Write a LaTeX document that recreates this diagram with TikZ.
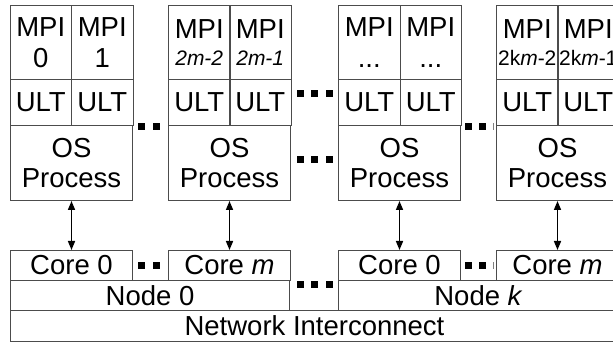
\documentclass[tikz,border=0pt]{standalone}
\usepackage{fontspec}
\setmainfont{Liberation Sans}
\usetikzlibrary{arrows.meta}
\definecolor{edge}{gray}{0.3}
\tikzset{
  box/.style={draw=edge, line width=1pt, inner sep=0pt, anchor=north west, align=center,
    font=\fontsize{27.5}{30.5}\selectfont},
  mpibox/.style={box, minimum width=61.5pt, minimum height=74pt},
  ultbox/.style={box, minimum width=61.5pt, minimum height=46pt},
  osbox/.style={box, minimum width=122pt, minimum height=75pt},
  corebox/.style={box, minimum width=122pt, minimum height=30pt},
  link/.style={line width=1.6pt, {Triangle[length=9pt,width=7pt]}-{Triangle[length=9pt,width=7pt]}},
  dotsq/.style={fill=black}
}
\newcommand{\smalltxt}{\fontsize{21}{23}\selectfont}
\begin{document}
\begin{tikzpicture}[x=1pt,y=-1pt]
\useasboundingbox (0,0) rectangle (613,344);
\clip (0,0) rectangle (613,344);
% group 1
\node[mpibox] (m1a) at (9.5,5) {MPI\\0};
\node[mpibox] (m1b) at (71,5) {MPI\\1};
\node[ultbox] (u1a) at (9.5,79) {ULT};
\node[ultbox] (u1b) at (71,79) {ULT};
\node[osbox] (os1) at (10,125) {OS\\Process};
% group 2
\node[mpibox] (m2a) at (168,5) {MPI\\[-4pt]{\smalltxt\textit{2m-2}}};
\node[mpibox] (m2b) at (229,5) {MPI\\[-4pt]{\smalltxt\textit{2m-1}}};
\node[ultbox] (u2a) at (168,79) {ULT};
\node[ultbox] (u2b) at (229,79) {ULT};
\node[osbox] (os2) at (168,125) {OS\\Process};
% group 3
\node[mpibox] (m3a) at (338,5) {MPI\\...};
\node[mpibox] (m3b) at (399.5,5) {MPI\\...};
\node[ultbox] (u3a) at (338,79) {ULT};
\node[ultbox] (u3b) at (399.5,79) {ULT};
\node[osbox] (os3) at (338,125) {OS\\Process};
% group 4
\node[mpibox] (m4a) at (496,5) {MPI\\[-4pt]{\smalltxt 2k\textit{m}-2}};
\node[mpibox] (m4b) at (557,5) {MPI\\[-4pt]{\smalltxt 2k\textit{m}-1}};
\node[ultbox] (u4a) at (496,79) {ULT};
\node[ultbox] (u4b) at (557,79) {ULT};
\node[osbox] (os4) at (496,125) {OS\\Process};
% cores
\node[corebox] (c1) at (10,250) {Core 0};
\node[corebox] (c2) at (168,250) {Core \textit{m}};
\node[corebox] (c3) at (338,250) {Core 0};
\node[corebox] (c4) at (496,250) {Core \textit{m}};
% nodes
\node[box, minimum width=279pt, minimum height=30pt] (n0) at (10,280) {Node 0};
\node[box, minimum width=280pt, minimum height=30pt] (nk) at (338,280) {Node \textit{k}};
\node[box, minimum width=608pt, minimum height=31pt] (net) at (10,310) {Network Interconnect};
% arrows
\draw[link] (os1.south) -- (c1.north);
\draw[link] (os2.south) -- (c2.north);
\draw[link] (os3.south) -- (c3.north);
\draw[link] (os4.south) -- (c4.north);
% ellipsis dots
\foreach \x in {138,153} {
  \fill[dotsq] (\x,123) rectangle ++(7,7);
  \fill[dotsq] (\x,262) rectangle ++(7,7);
}
\foreach \x in {296.5,311,325.5} {
  \fill[dotsq] (\x,90) rectangle ++(7,7);
  \fill[dotsq] (\x,156.5) rectangle ++(7,7);
  \fill[dotsq] (\x,281.5) rectangle ++(7,7);
}
\foreach \x in {464.5,479} {
  \fill[dotsq] (\x,123) rectangle ++(7,7);
  \fill[dotsq] (\x,262) rectangle ++(7,7);
}
\fill[gray] (493,123) rectangle ++(1.3,7);
\fill[gray] (493,262) rectangle ++(1.3,7);
\end{tikzpicture}
\end{document}
